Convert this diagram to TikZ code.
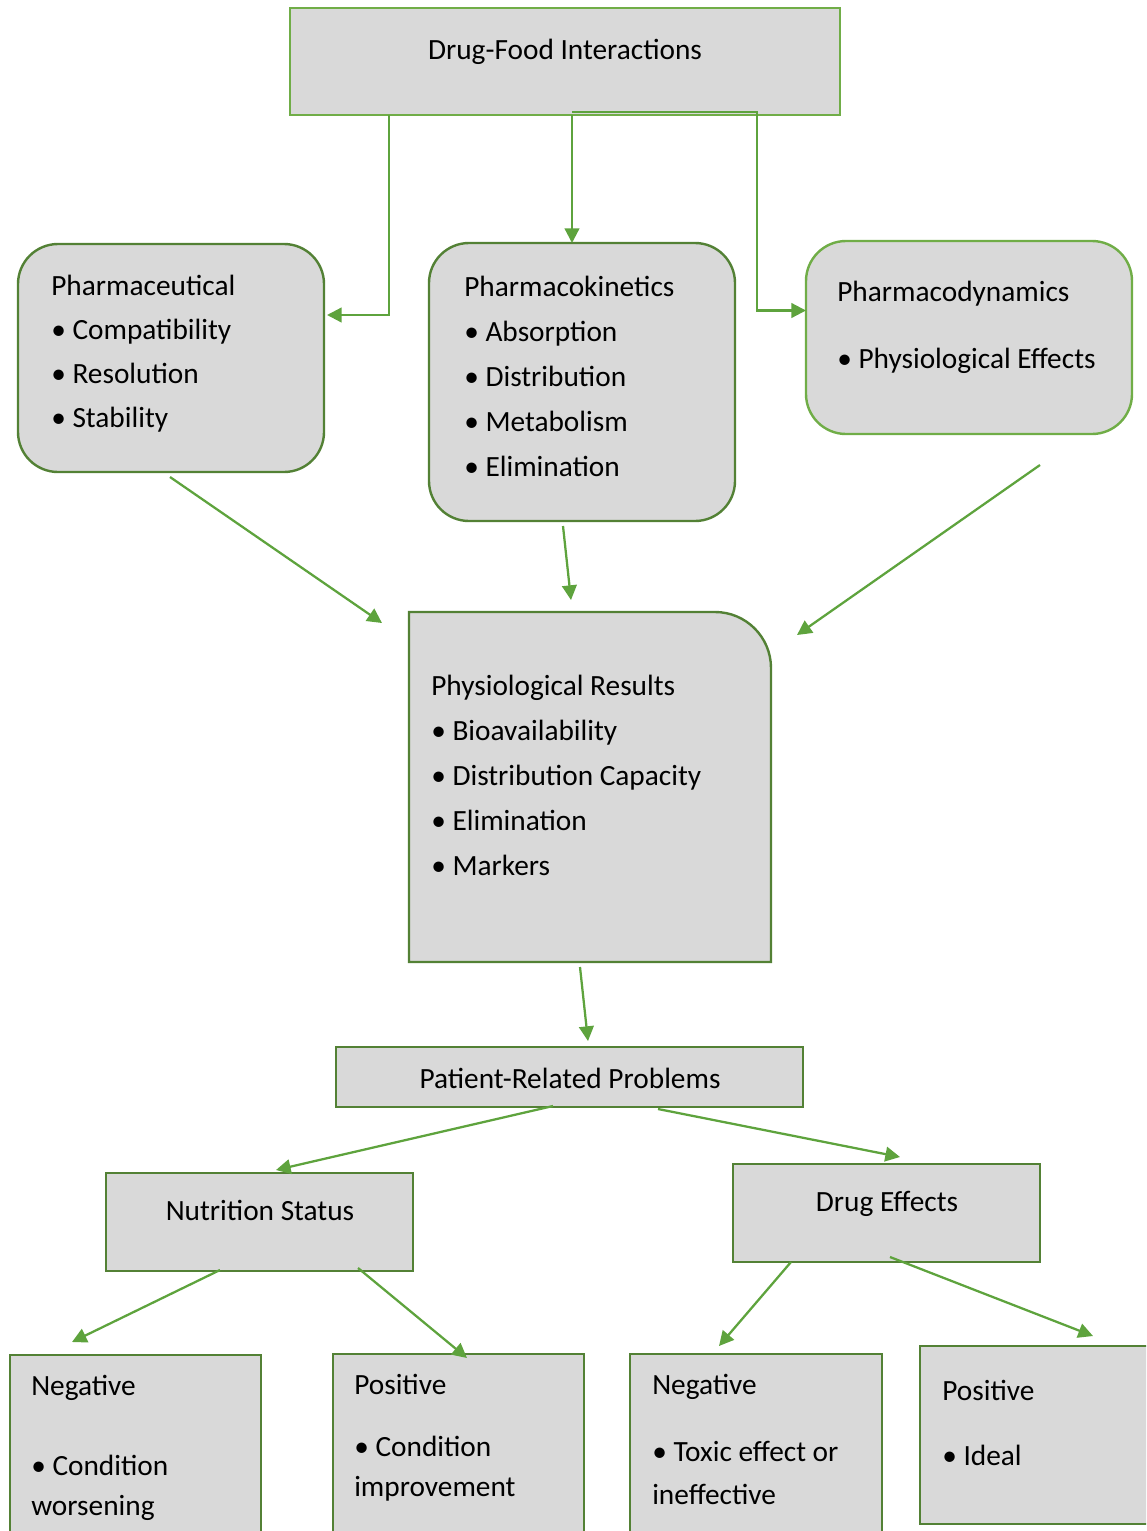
\documentclass[tikz,border=0pt]{standalone}
\usepackage{fontspec}
\setmainfont{Carlito}
\usetikzlibrary{arrows.meta}
\definecolor{boxgray}{HTML}{D9D9D9}
\definecolor{litegreen}{HTML}{70AD47}
\definecolor{darkgreen}{HTML}{538135}
\definecolor{arrowgreen}{HTML}{5EA33D}
\tikzset{
  box/.style={fill=boxgray, line width=1.8pt, inner sep=0, outer sep=0, anchor=north west},
  darkbox/.style={box, draw=darkgreen},
  litebox/.style={box, draw=litegreen},
  roundbox/.style={rounded corners=30pt},
  txt/.style={inner sep=0, align=left, anchor=base west},
  arr/.style={draw=arrowgreen, line width=1.7pt, -{Triangle[length=11pt,width=11pt]}},
}
\begin{document}
\begin{tikzpicture}[x=0.75pt, y=-0.75pt, font=\fontsize{22}{33.75}\selectfont]
\clip (0,0) rectangle (1146,1531);
% boxes
\node[litebox, minimum width=412.5pt, minimum height=80.25pt] (top) at (290,8) {};
\node[darkbox, roundbox, minimum width=229.5pt, minimum height=171pt] (pc) at (18,244) {};
\node[darkbox, roundbox, minimum width=229.5pt, minimum height=208.5pt] (pk) at (429,243) {};
\node[litebox, roundbox, minimum width=244.5pt, minimum height=144.75pt] (pd) at (806,241) {};
\node[inner sep=0, outer sep=0, anchor=north west, minimum width=271.5pt, minimum height=262.5pt] (pr) at (409,612) {};
\draw[draw=darkgreen, fill=boxgray, line width=1.8pt] (pr.north) [rounded corners=42pt] -- (pr.north east) -- (pr.east) [sharp corners] -- (pr.south east) -- (pr.south west) -- (pr.north west) -- cycle;
\node[darkbox, minimum width=350.25pt, minimum height=45pt] (pt) at (336,1047) {};
\node[darkbox, minimum width=230.25pt, minimum height=73.5pt] (ns) at (106,1173) {};
\node[darkbox, minimum width=230.25pt, minimum height=73.5pt] (de) at (733,1164) {};
\node[darkbox, minimum width=188.25pt, minimum height=142.5pt] (nl) at (10,1355) {};
\node[darkbox, minimum width=188.25pt, minimum height=143.25pt] (pl) at (333,1354) {};
\node[darkbox, minimum width=189pt, minimum height=143.25pt] (nr) at (630,1354) {};
\node[darkbox, minimum width=180pt, minimum height=133.5pt] (pp) at (920,1346) {};
% texts (placed at the baseline of the last line)
\node[txt, anchor=base] (toptxt) at (565,59) {Drug-Food Interactions};
\node[txt, font=\fontsize{22}{33}\selectfont] (pctxt) at (51,427) {Pharmaceutical\\• Compatibility\\• Resolution\\• Stability};
\node[txt] (pktxt) at (464,476) {Pharmacokinetics\\• Absorption\\• Distribution\\• Metabolism\\• Elimination};
\node[txt, font=\fontsize{22}{50.25}\selectfont] (pdtxt) at (837,368) {Pharmacodynamics\\• Physiological Effects};
\node[txt] (prtxt) at (431,875) {Physiological Results\\• Bioavailability\\• Distribution Capacity\\• Elimination\\• Markers};
\node[txt, anchor=base] (pttxt) at (570,1088) {Patient-Related Problems};
\node[txt, anchor=base] (nstxt) at (260,1220) {Nutrition Status};
\node[txt, anchor=base] (detxt) at (887,1211) {Drug Effects};
\node[txt, font=\fontsize{22}{30}\selectfont] (nltxt) at (31,1515) {Negative\\[30pt]• Condition\\worsening};
\node[txt, font=\fontsize{22}{30}\selectfont] (pltxt) at (354,1496) {Positive\\[16.5pt]• Condition\\improvement};
\node[txt, font=\fontsize{22}{32.25}\selectfont] (nrtxt) at (652,1504) {Negative\\[18pt]• Toxic effect or\\ineffective};
\node[txt, font=\fontsize{22}{48.75}\selectfont] (pptxt) at (942,1465) {Positive\\• Ideal};
% connectors
\draw[arr] ([shift={(99,0)}]top.south west) |- ([shift={(3,-43)}]pc.east);
\draw[arr] ([shift={(7,0)}]top.south) -- ([shift={(7,0)}]top.south |- pk.north);
\draw[arr] ([shift={(7,-3)}]top.south) -| ([shift={(-49,-27)}]pd.west) -- ([shift={(0,-27)}]pd.west);
\draw[arr] ([shift={(-1,5)}]pc.south) -- ([shift={(-27,11)}]pr.north west);
\draw[arr] ([shift={(-19,5)}]pk.south) -- ([shift={(-19,-12)}]pr.north);
\draw[arr] ([shift={(71,31)}]pd.south) -- ([shift={(26,23)}]pr.north east);
\draw[arr] ([shift={(-10,5)}]pr.south) -- ([shift={(18.5,-6)}]pt.north);
\draw[arr] ([shift={(-16.5,-1)}]pt.south) -- ([shift={(16.5,-3)}]ns.north);
\draw[arr] ([shift={(88.5,2)}]pt.south) -- ([shift={(13.5,-7)}]de.north);
\draw[arr] ([shift={(-39.5,-1)}]ns.south) -- ([shift={(-63.5,-13)}]nl.north);
\draw[arr] ([shift={(98.5,-3)}]ns.south) -- ([shift={(8.5,4)}]pl.north);
\draw[arr] ([shift={(-95.5,0)}]de.south) -- ([shift={(-37,-8)}]nr.north);
\draw[arr] ([shift={(3.5,-5)}]de.south) -- ([shift={(53,-10)}]pp.north);
\end{tikzpicture}
\end{document}
